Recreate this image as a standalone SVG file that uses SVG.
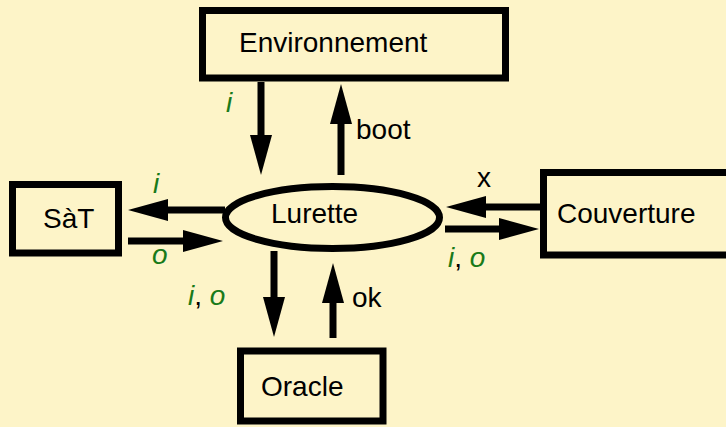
<svg xmlns="http://www.w3.org/2000/svg" width="726" height="427" viewBox="0 0 726 427">
<style>
.box{fill:none;stroke:#000;stroke-width:7}
.t{font-family:"Liberation Sans",Arial,sans-serif;font-size:28px;fill:#000}
.g{font-style:italic;fill:#197a19}
.c line{stroke:#000;stroke-width:7;marker-end:url(#ah)}
</style>
<defs>
<marker id="ah" markerUnits="userSpaceOnUse" markerWidth="40" markerHeight="22" refX="1" refY="11" orient="auto" overflow="visible">
<path d="M0,0 L40,11 L0,22 z" fill="#000"/>
</marker>
</defs>
<rect width="726" height="427" fill="#fdf4c8"/>
<g id="environnement">
<rect class="box" x="202.5" y="10.5" width="303" height="67.5"/>
<text class="t" x="239" y="52">Environnement</text>
</g>
<g id="sat">
<rect class="box" x="12.5" y="184.5" width="106" height="68.5"/>
<text class="t" x="43" y="228">SàT</text>
</g>
<g id="lurette">
<ellipse cx="332.5" cy="217.5" rx="107" ry="31" fill="none" stroke="#000" stroke-width="7"/>
<text class="t" x="271" y="223">Lurette</text>
</g>
<g id="couverture">
<rect class="box" x="543.5" y="172.5" width="186" height="82.5"/>
<text class="t" x="557" y="223">Couverture</text>
</g>
<g id="oracle">
<rect class="box" x="240.5" y="351" width="142.5" height="70"/>
<text class="t" x="261" y="396">Oracle</text>
</g>
<g id="connectors" class="c">
<line x1="261" y1="82" x2="261" y2="136"/>
<line x1="341" y1="175" x2="341" y2="123"/>
<line x1="225" y1="210" x2="167" y2="210"/>
<line x1="128" y1="241" x2="184" y2="241"/>
<line x1="540" y1="207" x2="485" y2="207"/>
<line x1="445" y1="229" x2="500" y2="229"/>
<line x1="274" y1="251" x2="274" y2="298"/>
<line x1="333" y1="338" x2="333" y2="302"/>
</g>
<g id="labels">
<text class="t g" x="226" y="112">i</text>
<text class="t" x="356" y="139">boot</text>
<text class="t g" x="153" y="193">i</text>
<text class="t g" x="152" y="264">o</text>
<text class="t" x="477" y="187">x</text>
<text class="t" x="448" y="267"><tspan class="g">i</tspan>, <tspan class="g">o</tspan></text>
<text class="t" x="188" y="305"><tspan class="g">i</tspan>, <tspan class="g">o</tspan></text>
<text class="t" x="352" y="307">ok</text>
</g>
</svg>
